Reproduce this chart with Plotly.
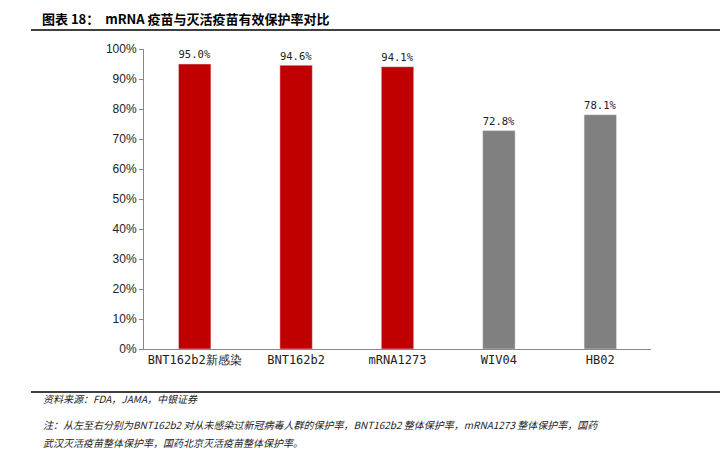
import plotly.graph_objects as go

categories = ["BNT162b2新感染", "BNT162b2", "mRNA1273", "WIV04", "HB02"]
values = [95.0, 94.6, 94.1, 72.8, 78.1]
colors = ["#C00000", "#C00000", "#C00000", "#808080", "#808080"]
labels = [f"{v:.1f}%" for v in values]
ytick_vals = list(range(0, 101, 10))
ytick_text = [f"{v}%" for v in ytick_vals]

font_cn = "Noto Sans CJK SC"
fig = go.Figure(go.Bar(
    x=categories, y=values, marker_color=colors, text=labels,
    textposition="outside", textfont=dict(family="DejaVu Sans Mono", size=12, color="#222"),
    cliponaxis=False, width=0.32,
))
fig.update_layout(
    width=728, height=456, paper_bgcolor="white", plot_bgcolor="white",
    margin=dict(l=136, r=85, t=41, b=115),
    showlegend=False,
    xaxis=dict(showline=True, linecolor="#888", linewidth=1, ticks="",
               tickfont=dict(family="DejaVu Sans Mono", size=12, color="#222")),
    yaxis=dict(range=[0, 100], tickvals=ytick_vals, ticktext=ytick_text,
               showgrid=False, showline=True, linecolor="#888", ticks="outside",
               ticklen=4, tickcolor="#888",
               tickfont=dict(family="Liberation Sans", size=12, color="#222")),
    shapes=[
        dict(type="line", xref="paper", yref="paper", x0=-0.223, x1=1.138, y0=1.063, y1=1.063,
             line=dict(color="black", width=1.5)),
        dict(type="line", xref="paper", yref="paper", x0=-0.223, x1=1.138, y0=-0.143, y1=-0.143,
             line=dict(color="black", width=1.5)),
    ],
    annotations=[
        dict(text="<b>图表 18：  mRNA 疫苗与灭活疫苗有效保护率对比</b>", xref="paper", yref="paper",
             x=-0.205, y=1.1, xanchor="left", yanchor="middle", showarrow=False,
             font=dict(family=font_cn, size=13, color="black")),
        dict(text="<i>资料来源：FDA，JAMA，中银证券</i>", xref="paper", yref="paper",
             x=-0.203, y=-0.165, xanchor="left", yanchor="middle", showarrow=False,
             font=dict(family=font_cn, size=10, color="#222")),
        dict(text="<i>注：从左至右分别为BNT162b2 对从未感染过新冠病毒人群的保护率，BNT162b2 整体保护率，mRNA1273 整体保护率，国药</i>",
             xref="paper", yref="paper", align="left",
             x=-0.203, y=-0.25, xanchor="left", yanchor="middle", showarrow=False,
             font=dict(family=font_cn, size=10, color="#222")),
        dict(text="<i>武汉灭活疫苗整体保护率，国药北京灭活疫苗整体保护率。</i>",
             xref="paper", yref="paper", align="left",
             x=-0.203, y=-0.31, xanchor="left", yanchor="middle", showarrow=False,
             font=dict(family=font_cn, size=10, color="#222")),
    ],
)
fig.write_html("out.html")
